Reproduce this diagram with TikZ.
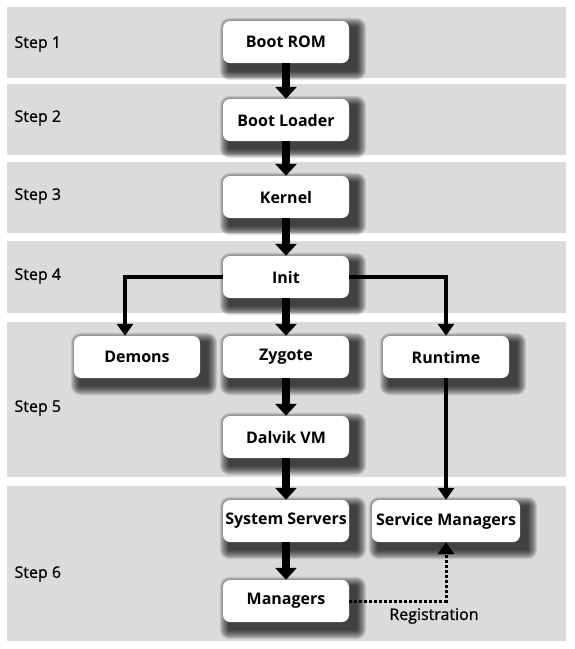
\documentclass[tikz,border=0pt]{standalone}
\usepackage{fontspec}
\setmainfont{Open Sans}
\newfontfamily\semib{Open Sans}[FakeBold=0.8]
\usetikzlibrary{arrows.meta}
\definecolor{bandgray}{RGB}{220,218,219}
\pgfdeclarelayer{back}
\pgfdeclarelayer{shade}
\pgfsetlayers{back,shade,main}

\begin{document}
\begin{tikzpicture}[x=1pt,y=-1pt]
\tikzstyle{every node}=[font=\fontsize{16}{19}\semib]
\tikzstyle{box}=[rectangle, rounded corners=7pt, fill=white, minimum width=126pt, minimum height=42pt, inner xsep=2pt, font=\fontsize{16}{19}\selectfont\bfseries]
\tikzstyle{big}=[line width=8pt, -{Triangle[width=21pt,length=12pt]}]
\tikzstyle{thin}=[line width=4pt, -{Triangle[width=16pt,length=12pt]}]
\useasboundingbox (0,0) rectangle (574,649);
% bands
\begin{pgfonlayer}{back}
\fill[white] (0,0) rectangle (574,649);
\foreach \t/\b in {7/78,84/155,162/233,241/313,322/477,486/641}
  \fill[bandgray] (7,\t) rectangle (566,\b);
\end{pgfonlayer}
\foreach \n/\y in {1/44,2/118,3/196,4/276,5/408,6/574}
  \draw (11,\y) node (s\n) [anchor=west] {Step \n};
% boxes
\draw (286,42) node (rom) [box] {Boot ROM};
\draw (286,120) node (loader) [box] {Boot Loader};
\draw (286,197) node (kernel) [box] {Kernel};
\draw (286,277) node (init) [box] {Init};
\draw (137,357) node (demons) [box] {Demons};
\draw (286,357) node (zygote) [box] {Zygote};
\draw (446,357) node (runtime) [box] {Runtime};
\draw (286,437) node (dalvik) [box] {Dalvik VM};
\draw (286,521) node (sysserv) [box] {System Servers};
\draw (446,521) node (servmgr) [box, minimum width=148pt] {Service Managers};
\draw (286,601) node (mgrs) [box] {Managers};
\draw (434,616) node (reg) {Registration};
% shadows
\begin{pgfonlayer}{shade}
\foreach \b in {rom,loader,kernel,init,demons,zygote,runtime,dalvik,sysserv,servmgr,mgrs}
  \foreach \r [evaluate=\r as \rc using 7+\r] in {1,...,10}
    \fill[black, opacity=0.11, rounded corners=\rc pt]
      ([shift={(7-\r,7-\r)}]\b.north west) rectangle ([shift={(7+\r,7+\r)}]\b.south east);
\end{pgfonlayer}
% arrows
\draw[big] (rom) -- (loader);
\draw[big] (loader) -- (kernel);
\draw[big] (kernel) -- (init);
\draw[big] (init) -- (zygote);
\draw[big] (zygote) -- (dalvik);
\draw[big] (dalvik) -- (sysserv);
\draw[big] (sysserv) -- (mgrs);
\draw[thin] (init.west) -| ([xshift=-12pt]demons.north);
\draw[thin] (init.east) -| (runtime.north);
\draw[thin] (runtime) -- (servmgr);
\draw[thin, line width=3pt, dash pattern=on 3pt off 2pt] (mgrs.east) -| (servmgr.south);
\end{tikzpicture}
\end{document}
